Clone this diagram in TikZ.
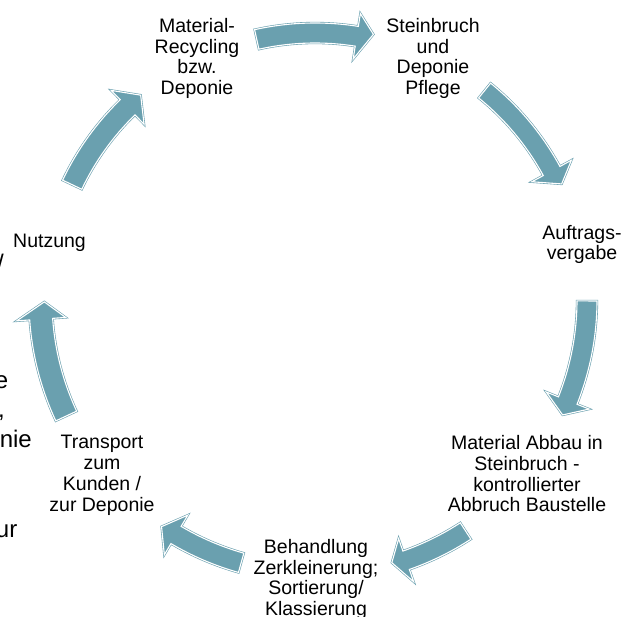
\documentclass[tikz,border=0pt]{standalone}
\usepackage{fontspec}
\setmainfont{Liberation Sans}
\definecolor{cyc}{RGB}{106,160,175}
\tikzset{
  lbl/.style={align=center, inner sep=0pt, anchor=north, font=\fontsize{19.5}{20.7}\selectfont},
  frag/.style={inner sep=0pt, anchor=base east, font=\fontsize{24}{30}\selectfont},
  cycarrow/.style={fill=cyc, draw=cyc, line width=0.6pt, double=white, double distance=1.1pt, line join=miter},
}
% #1 tail angle, #2 head-base angle, #3 tip angle, #4 inner radius, #5 outer radius, #6 tip radius
\newcommand\cycarrowat[6]{%
  \begin{scope}[shift={(315pt,316pt)}]
    \path[cycarrow] (#1:#5pt) arc[start angle=#1, end angle=#2, radius=#5pt]
      -- (#2:#5pt+13pt) -- (#3:#6pt) -- (#2:#4pt-13pt) -- (#2:#4pt)
      arc[start angle=#2, end angle=#1, radius=#4pt] -- cycle;
  \end{scope}}
\begin{document}
\begin{tikzpicture}
\useasboundingbox (0,0) rectangle (623pt,616pt);
\clip (0,0) rectangle (623pt,616pt);
% arrows
\cycarrowat{102.6}{81}{77.6}{257}{277}{272}
\cycarrowat{51}{28.6}{25.2}{260}{279}{272.6}
\cycarrowat{-0.2}{-21.7}{-24.9}{262}{282}{273}
\cycarrowat{-56.9}{-70.7}{-73.7}{266}{285.5}{273.7}
\cycarrowat{-105.7}{-120.6}{-124.1}{263}{283}{273.7}
\cycarrowat{205}{184}{180.4}{263}{286}{270.7}
\cycarrowat{154.6}{134.2}{130.4}{258.2}{279.4}{269}
% labels
\node[lbl] (recyc) at (197pt,597.9pt) {Material-\\Recycling\\bzw.\\Deponie};
\node[lbl] (stein) at (433pt,597.9pt) {Steinbruch\\und\\Deponie\\Pflege};
\node[lbl] (auftrag) at (582pt,391.2pt) {Auftrags-\\vergabe};
\node[lbl] (abbau) at (527pt,180.7pt) {Material Abbau in\\Steinbruch -\\kontrollierter\\Abbruch Baustelle};
\node[lbl] (behand) at (316pt,76.9pt) {Behandlung\\Zerkleinerung;\\Sortierung/\\Klassierung};
\node[lbl] (trans) at (102pt,180.7pt) {Transport\\zum\\Kunden /\\zur Deponie};
\node[lbl] (nutz) at (49.5pt,382pt) {Nutzung};
% clipped fragments at the left edge
\node[frag] (f1) at (4pt,344pt) {/};
\node[frag] (f2) at (8.5pt,228pt) {e};
\node[frag] (f3) at (5pt,199pt) {,};
\node[frag] (f4) at (32pt,169pt) {nie};
\node[frag] (f5) at (17.5pt,79pt) {ur};
\end{tikzpicture}
\end{document}
